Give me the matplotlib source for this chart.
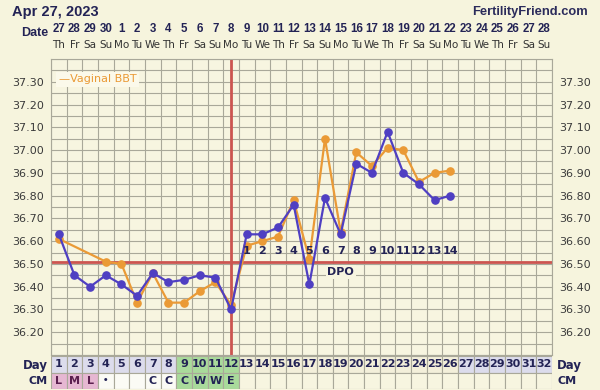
import matplotlib
matplotlib.use("Agg")
import matplotlib.pyplot as plt
import numpy as np

# ---------------- data ----------------
title = "Apr 27, 2023"
site = "FertilityFriend.com"
dates = ["27", "28", "29", "30"] + [str(d) for d in range(1, 29)]
weekdays = ["Th", "Fr", "Sa", "Su", "Mo", "Tu", "We"]
cycle_days = list(range(1, 33))

bbt_days = list(range(1, 27))
bbt_temps = [36.63, 36.45, 36.40, 36.45, 36.41, 36.36, 36.46, 36.42, 36.43, 36.45,
             36.44, 36.30, 36.63, 36.63, 36.66, 36.76, 36.41, 36.79, 36.63, 36.94,
             36.90, 37.08, 36.90, 36.85, 36.78, 36.80]

vag_days = [1, 4, 5, 6, 7, 8, 9, 10, 11, 12, 13, 14, 15, 16, 17, 18, 19, 20, 21, 22, 23, 24, 25, 26]
vag_temps = [36.61, 36.51, 36.50, 36.33, 36.46, 36.33, 36.33, 36.38, 36.42, 36.32,
             36.58, 36.60, 36.62, 36.78, 36.52, 37.05, 36.64, 36.99, 36.93, 37.01,
             37.00, 36.86, 36.90, 36.91]

coverline = 36.51
ovulation_day = 12
dpo_days = list(range(13, 27))
dpo_labels = [str(i) for i in range(1, 15)]

cm_days = [1, 2, 3, 4, 7, 8, 9, 10, 11, 12]
cm_codes = ["L", "M", "L", "•", "C", "C", "C", "W", "W", "E"]

ytick_vals = [36.20, 36.30, 36.40, 36.50, 36.60, 36.70, 36.80, 36.90, 37.00, 37.10, 37.20, 37.30]

# ---------------- style ----------------
W, H = 600, 390
BG = "#f6f4dd"
PLOT_BG = "#f7f5e0"
GRID = "#a9a899"
NAVY = "#232355"
BLUE = "#4f3fc2"
ORANGE = "#ea9a36"
RED = "#cc5550"
LAV = "#dcdcec"
GREEN = "#a9da9b"
PINK = "#e6b7d2"
WHITE = "#fbfbf5"
CREAM = "#f3efda"

fig = plt.figure(figsize=(W / 100, H / 100), dpi=100, facecolor=BG)

def fx(px):
    return px / W

def fy(py):
    return 1 - py / H

L, R = 51, 552
T, B = 59, 355
ax = fig.add_axes([fx(L), fy(B), fx(R - L), (B - T) / H])
ax.set_facecolor(PLOT_BG)
ax.set_xlim(0.5, 32.5)
ax.set_ylim(36.10, 37.40)
for s in ax.spines.values():
    s.set_color(GRID)
    s.set_linewidth(0.8)

# grid
for xv in np.arange(0.5, 33, 1.0):
    ax.axvline(xv, color=GRID, lw=0.8, zorder=1)
for yv in np.arange(36.10, 37.401, 0.05):
    ax.axhline(yv, color=GRID, lw=0.8, zorder=1)

ax.set_xticks([])
ax.set_yticks(ytick_vals)
ax.set_yticklabels([f"{v:.2f}" for v in ytick_vals], fontsize=8, color="#3a3a3a",
                   family="DejaVu Sans")
ax.tick_params(axis="y", length=0, pad=5, labelright=True, labelleft=True)

# coverline & ovulation
ax.axhline(coverline, color=RED, lw=2.0, zorder=2)
ax.axvline(ovulation_day, color=RED, lw=2.0, zorder=2)

# series
ax.plot(vag_days, vag_temps, color=ORANGE, lw=1.6, marker="o", ms=5.2, zorder=3)
ax.plot(bbt_days, bbt_temps, color=BLUE, lw=1.6, marker="o", ms=5.2, zorder=4)

# DPO labels
for d, lab in zip(dpo_days, dpo_labels):
    ax.text(d, 36.555, lab, ha="center", va="center", fontsize=8, fontweight="bold",
            color=NAVY, family="DejaVu Sans", zorder=5)
ax.text(19, 36.465, "DPO", ha="center", va="center", fontsize=8, fontweight="bold",
        color=NAVY, family="DejaVu Sans", zorder=5,
        bbox=dict(boxstyle="square,pad=0.15", fc=PLOT_BG, ec="none"))

# legend
ax.text(1.0, 37.31, "\u2014Vaginal BBT", ha="left", va="center", fontsize=8,
        color=ORANGE, family="DejaVu Sans", zorder=6,
        bbox=dict(boxstyle="square,pad=0.25", fc="#fbf9ea", ec="none"))

# ---------------- header ----------------
fig.text(fx(12), fy(12), title, ha="left", va="center", fontsize=10.5,
         fontweight="bold", color=NAVY, family="Liberation Sans")
fig.text(fx(588), fy(12), site, ha="right", va="center", fontsize=9.3,
         fontweight="bold", color="#2b2b5b", family="Liberation Sans")
fig.text(fx(48), fy(33), "Date", ha="right", va="center", fontsize=9,
         fontweight="bold", color=NAVY, family="Liberation Sans")
colw = (R - L) / 32
for i, d in enumerate(dates):
    cx = L + (i + 0.5) * colw
    fig.text(fx(cx), fy(29), d, ha="center", va="center", fontsize=8.3,
             fontweight="bold", color=NAVY,
             family=["Liberation Sans Narrow", "Liberation Sans"])
    fig.text(fx(cx), fy(45), weekdays[i % 7], ha="center", va="center", fontsize=7.5,
             color="#333333", family="DejaVu Sans")

# ---------------- bottom table ----------------
tb = fig.add_axes([fx(L), fy(389), fx(R - L), (389 - 356) / H])
tb.set_xlim(0.5, 32.5)
tb.set_ylim(0, 2)
tb.axis("off")

def day_color(d):
    if d <= 8:
        return LAV
    if d <= 12:
        return GREEN
    if d <= 26:
        return CREAM
    return LAV

def cm_color(d):
    if d <= 3:
        return PINK
    if d <= 8:
        return WHITE
    if d <= 12:
        return GREEN
    return PLOT_BG

for d in cycle_days:
    tb.add_patch(plt.Rectangle((d - 0.5, 1), 1, 1, fc=day_color(d), ec=GRID, lw=0.8))
    tb.add_patch(plt.Rectangle((d - 0.5, 0), 1, 1, fc=cm_color(d), ec=GRID, lw=0.8))
    tb.text(d, 1.5, str(d), ha="center", va="center", fontsize=8, fontweight="bold",
            color=NAVY, family="DejaVu Sans")
for d, c in zip(cm_days, cm_codes):
    col = "#5b1f4f" if d <= 3 else NAVY
    tb.text(d, 0.5, c, ha="center", va="center", fontsize=8 if c != "•" else 6,
            fontweight="bold", color=col, family="DejaVu Sans")

fig.text(fx(48), fy(365), "Day", ha="right", va="center", fontsize=8.5,
         fontweight="bold", color=NAVY, family="DejaVu Sans")
fig.text(fx(48), fy(381), "CM", ha="right", va="center", fontsize=8,
         fontweight="bold", color=NAVY, family="DejaVu Sans")
fig.text(fx(557), fy(365), "Day", ha="left", va="center", fontsize=8.5,
         fontweight="bold", color=NAVY, family="DejaVu Sans")
fig.text(fx(557), fy(381), "CM", ha="left", va="center", fontsize=8,
         fontweight="bold", color=NAVY, family="DejaVu Sans")

fig.savefig("out.png", dpi=100, facecolor=BG)
